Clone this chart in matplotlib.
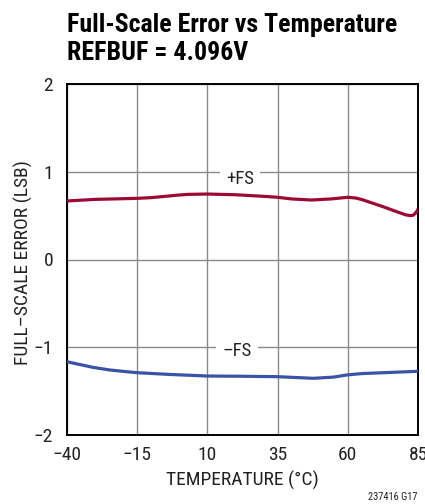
import matplotlib
matplotlib.use("Agg")
import matplotlib.pyplot as plt

FAM = ["Roboto Condensed", "DejaVu Sans"]
plt.rcParams['font.family'] = FAM

# Data
temp_pos = [-40, -30, -20, -15, -10, 0, 3, 10, 20, 30, 35, 40, 47, 54, 60, 63, 65.5, 69, 72.7, 77.4, 80.5, 82.2, 83.3, 84, 84.6, 85]
fs_pos = [0.667, 0.685, 0.693, 0.697, 0.705, 0.735, 0.742, 0.746, 0.738, 0.72, 0.709, 0.69, 0.678, 0.69, 0.709, 0.70, 0.678, 0.64, 0.60, 0.545, 0.51, 0.50, 0.505, 0.525, 0.55, 0.575]

temp_neg = [-40, -35, -30.6, -25, -20, -15, -3.3, 10, 20, 34.7, 47.7, 55, 59.6, 65, 72.7, 85]
fs_neg = [-1.165, -1.20, -1.23, -1.258, -1.275, -1.29, -1.31, -1.328, -1.33, -1.335, -1.354, -1.34, -1.316, -1.30, -1.29, -1.274]

xticks = [-40, -15, 10, 35, 60, 85]
xticklabels = ["\u221240", "\u221215", "10", "35", "60", "85"]
yticks = [-2, -1, 0, 1, 2]
yticklabels = ["\u22122", "\u22121", "0", "1", "2"]

W, H = 425, 504
fig = plt.figure(figsize=(W / 100, H / 100), dpi=100)
ax = fig.add_axes([67 / W, 1 - 435 / H, (418 - 67) / W, (435 - 84) / H])

ax.plot(temp_pos, fs_pos, color="#9b0a35", lw=2.3, solid_capstyle="butt", solid_joinstyle="round", zorder=3)
ax.plot(temp_neg, fs_neg, color="#3a53a6", lw=2.3, solid_capstyle="butt", solid_joinstyle="round", zorder=3)

ax.set_xlim(-40, 85)
ax.set_ylim(-2, 2)
ax.set_xticks(xticks)
ax.set_xticklabels(xticklabels)
ax.set_yticks(yticks)
ax.set_yticklabels(yticklabels)
ax.tick_params(length=0, labelsize=14, colors="#222222")
ax.tick_params(axis="x", pad=8)
ax.tick_params(axis="y", pad=10)
ax.grid(True, color="#8a8a8a", lw=1.0)
ax.set_axisbelow(True)
for s in ax.spines.values():
    s.set_linewidth(1.4)
    s.set_color("black")

ax.set_xlabel("TEMPERATURE (\u00b0C)", fontsize=14, color="#222222")
ax.set_ylabel("FULL\u2013SCALE ERROR (LSB)", fontsize=14, color="#222222")
ax.xaxis.set_label_coords(0.4986, -0.101)
ax.yaxis.set_label_coords(-0.097, 0.49)

ax.text(21.5, 0.92, "+FS", fontsize=13.5, ha="center", va="center", color="#222222",
        bbox=dict(facecolor="white", edgecolor="none", pad=4.5), zorder=2.5)
ax.text(20.5, -1.04, "\u2013FS", fontsize=13.5, ha="center", va="center", color="#222222",
        bbox=dict(facecolor="white", edgecolor="none", pad=4.5), zorder=2.5)

fig.text(67 / W, 1 - 32 / H, "Full-Scale Error vs Temperature", fontsize=18.6, fontweight="bold",
         ha="left", va="baseline")
fig.text(67 / W, 1 - 60 / H, "REFBUF = 4.096V", fontsize=18.6, fontweight="bold",
         ha="left", va="baseline")
fig.text(417 / W, 1 - 500 / H, "237416 G17", fontsize=7.5, ha="right", va="baseline", color="#222222")

fig.savefig("out.png", dpi=100)
